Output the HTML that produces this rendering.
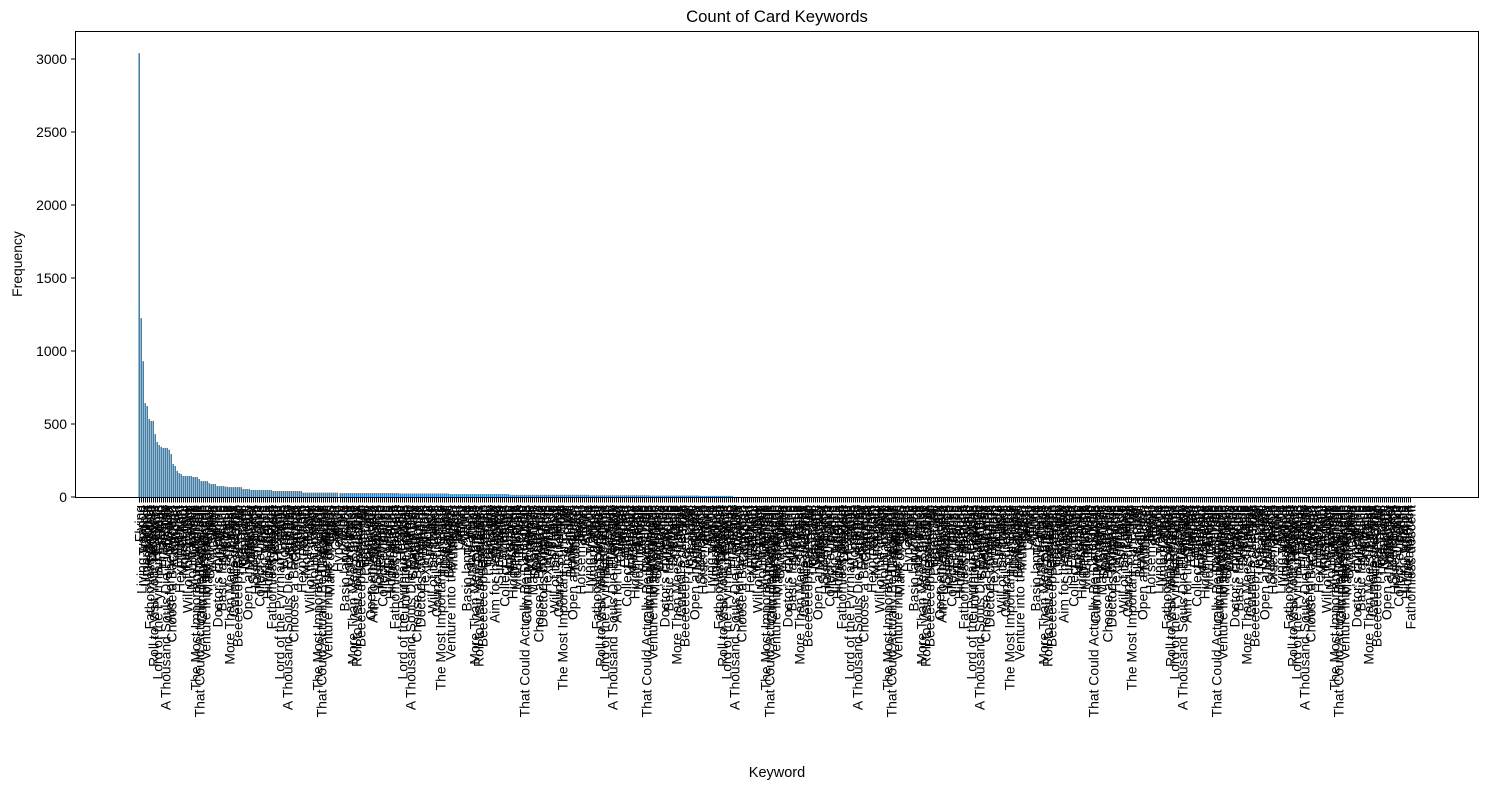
<!DOCTYPE html>
<html><head><meta charset="utf-8"><style>
body{margin:0;background:#fff}
svg{display:block;font-family:"Liberation Sans","DejaVu Sans",sans-serif}
</style></head><body>
<svg id="chart" width="1489" height="790">
<rect x="0" y="0" width="1489" height="790" fill="#fff"/>
<text x="777" y="22" font-size="16.7" text-anchor="middle">Count of Card Keywords</text>
<text transform="translate(22,264) rotate(-90)" font-size="13.9" text-anchor="middle">Frequency</text>
<text x="777" y="777" font-size="14.5" text-anchor="middle">Keyword</text>
<g id="bars"></g>
<g id="yaxis"></g>
<g id="xaxis"></g>
<rect x="75.5" y="31.5" width="1403" height="466" fill="none" stroke="#000" stroke-width="1"/>
</svg>
<script>
const headValues = [3040,1225,930,643,623,534,521,521,431,377,356,343,336,336,336,324,294,226,212,178,164,157,144,144,144,144,144,137,137,137,123,109,109,109,109,95,89,89,89,75,75,75,75,72,70];
const tailRuns = [[68,7],[55,4],[48,11],[41,15],[30,18],[27,30],[24,25],[20,30],[15,40],[12,30],[10,25],[8,17],[1,338]];
const yTicks = [0,500,1000,1500,2000,2500,3000];
const keywordNames = ["Flying","Enchant","Vigilance","Trample","First strike","Haste","Flash","Deathtouch","Reach","Lifelink","Defender","Menace","Scry","Indestructible","Hexproof","Investigate","Mill","Equip","Cumulative upkeep","Landfall","Transform","Partner","Venture into the dungeon","Open an Attraction","Shadow","Swampwalk","Island","Manifest","Choose a Background","Cycling","Horsemanship","Kicker","Doctor's companion","Affinity","Collect evidence","Hexproof from","Basic landcycling","Living weapon","Monstrosity","Spectacle","Umbra armor","Hidden agenda","Will of the council","More Than Meets the Eye","Fathomless descent","Mountainwalk","Council's dilemma","Roll to Visit Your Relatives","Meld","The Most Important Punchline","Beeeeeeep, Beeeeeep","Lord of the Pyrrhian Legions","That Could Actually Be Dangerous","Time Travel","Primal Clay","Womanize","Benediction","Sanctuary","A Thousand Souls Die Every Day","Mark of Chaos","Multikicker","Aim for the Wyvern","Death Ray","Spear","Supercharge","Guardian","Hyperdrive","Armor","Enhanced","Chorus","Echo"];
const yScale = v => 497 - v * (438 / 3000);
const xPos = i => Math.round(139 + i * 2.005);
const NS = "http://www.w3.org/2000/svg";
const values = headValues.slice();
tailRuns.forEach(r => { for (let k = 0; k < r[1]; k++) values.push(r[0]); });
const bars = document.getElementById('bars');
values.forEach((v, i) => {
  const r = document.createElementNS(NS, 'rect');
  
  
  r.setAttribute('x', xPos(i) - 0.5);
  r.setAttribute('width', 1.4);
  r.setAttribute('y', yScale(v));
  r.setAttribute('height', 497 - yScale(v));
  r.setAttribute('fill', '#1f77b4');
  bars.appendChild(r);
});
const ya = document.getElementById('yaxis');
yTicks.forEach(t => {
  const y = yScale(t);
  const l = document.createElementNS(NS, 'line');
  
  
  l.setAttribute('x1', 71); l.setAttribute('x2', 75.5);
  l.setAttribute('y1', y); l.setAttribute('y2', y);
  l.setAttribute('stroke', '#000');
  ya.appendChild(l);
  const tx = document.createElementNS(NS, 'text');
  
  
  tx.setAttribute('x', 67); tx.setAttribute('y', y + 5);
  tx.setAttribute('font-size', '13.9');
  tx.setAttribute('text-anchor', 'end');
  tx.textContent = t;
  ya.appendChild(tx);
});
const xa = document.getElementById('xaxis');
values.forEach((v, i) => {
  const x = xPos(i) + 0.5;
  const l = document.createElementNS(NS, 'line');
  
  
  l.setAttribute('x1', x); l.setAttribute('x2', x);
  l.setAttribute('y1', 497.5); l.setAttribute('y2', 502.5);
  l.setAttribute('stroke', '#000');
  l.setAttribute('stroke-width', '1');
  xa.appendChild(l);
  const tx = document.createElementNS(NS, 'text');
  
  
  tx.setAttribute('transform', 'translate(' + (x + 5) + ',505) rotate(-90)');
  tx.setAttribute('font-size', '13.9');
  tx.setAttribute('text-anchor', 'end');
  tx.textContent = keywordNames[(i * 37 + (i >> 2)) % keywordNames.length];
  xa.appendChild(tx);
});
</script>
</body></html>
